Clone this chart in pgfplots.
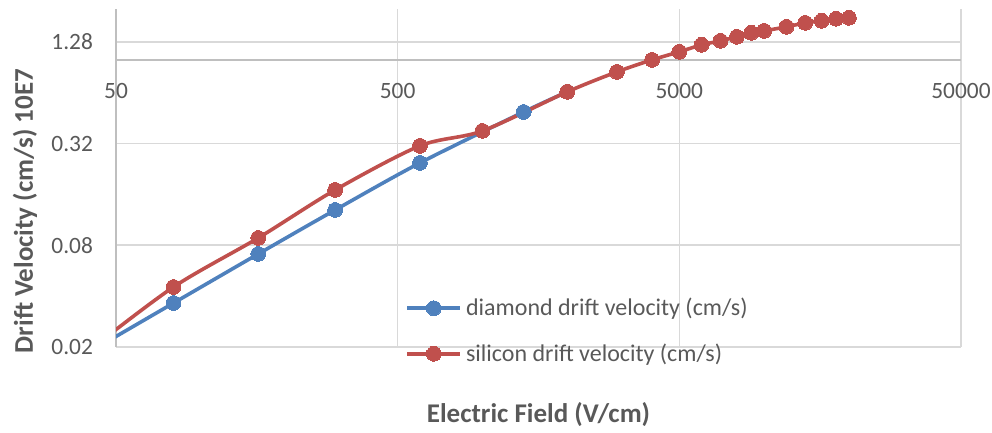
\documentclass[border=0pt]{standalone}
\usepackage{fontspec}
\setmainfont{Carlito}
\usepackage{pgfplots}
\pgfplotsset{compat=1.18}
\definecolor{dblue}{HTML}{4F81BD}
\definecolor{sred}{HTML}{C0504D}
\definecolor{gridgray}{HTML}{D9D9D9}
\definecolor{axgray}{HTML}{BFBFBF}
\definecolor{txtgray}{HTML}{595959}
\begin{document}
\begin{tikzpicture}
\begin{axis}[
  scale only axis, width=422.5pt, height=169pt,
  xmode=log, ymode=log,
  xmin=50, xmax=50000, ymin=0.02, ymax=2,
  axis x line=middle, axis y line=left,
  hide obscured x ticks=false, hide obscured y ticks=false,
  axis line style={-, draw=axgray, line width=0.8pt},
  xtick={50,500,5000,50000}, xticklabels={50,500,5000,50000},
  ytick={0.02,0.08,0.32,1.28}, yticklabels={0.02,0.08,0.32,1.28},
  xminorticks=false, yminorticks=false, major tick length=0pt,
  grid=major, major grid style={draw=gridgray, line width=0.8pt},
  tick label style={font=\fontsize{11.7}{14}\selectfont, text=txtgray},
  xticklabel style={anchor=north, yshift=-8pt},
  yticklabel style={anchor=east, xshift=-8pt},
  xlabel={\textbf{Electric Field (V/cm)}},
  ylabel={\textbf{Drift Velocity (cm/s) 10E7}},
  xlabel style={at={(axis description cs:0.5,-0.2012)}, anchor=center, font=\fontsize{13.5}{16}\selectfont, text=txtgray},
  ylabel style={at={(axis description cs:-0.1077,0.402)}, anchor=center, rotate=0, font=\fontsize{13.5}{16}\selectfont, text=txtgray},
  legend style={draw=none, fill=none, at={(axis description cs:0.335,0.0473)}, anchor=west,
    font=\fontsize{12}{14}\selectfont, text=txtgray, row sep=8.5pt},
  legend cell align=left,
  legend image code/.code={\draw[mark repeat=2,mark phase=2] plot coordinates {(0pt,0pt) (13.25pt,0pt) (26.5pt,0pt)};},
]
\addplot[dblue, line width=1.8pt, smooth, tension=0.5, mark=*, mark size=3.7pt, mark options={fill=dblue, draw=dblue, line width=0pt}]
coordinates {(40,0.0186) (80,0.0364) (160,0.0711) (300,0.1294) (600,0.2457) (1400,0.492) (2000,0.647)};
\addlegendentry{diamond drift velocity (cm/s)}
\addplot[sred, line width=1.8pt, smooth, tension=0.5, mark=*, mark size=3.7pt, mark options={fill=sred, draw=sred, line width=0pt}]
coordinates {(40,0.0190) (80,0.0453) (160,0.0884) (300,0.170) (600,0.310) (1000,0.380) (2000,0.647) (3000,0.849) (4000,1.0) (5000,1.116) (6000,1.228) (7000,1.296) (8000,1.369) (9000,1.446) (10000,1.485) (12000,1.569) (14000,1.656) (16000,1.703) (18000,1.751) (20000,1.774)};
\addlegendentry{silicon drift velocity (cm/s)}
\end{axis}
\pgfresetboundingbox
\useasboundingbox (-58pt,-43pt) rectangle (438pt,173.5pt);
\end{tikzpicture}
\end{document}
